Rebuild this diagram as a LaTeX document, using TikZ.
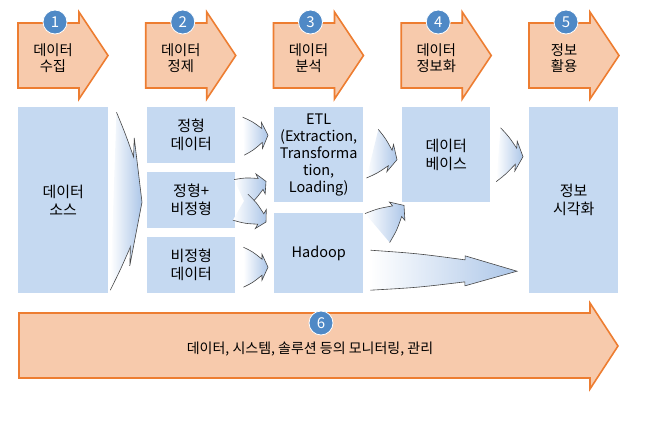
\documentclass[tikz,border=0pt]{standalone}
\usepackage{fontspec}
\setmainfont{Noto Sans CJK KR}
\usetikzlibrary{calc, positioning}
\definecolor{peach}{RGB}{247,202,172}
\definecolor{stageline}{RGB}{237,125,49}
\definecolor{boxblue}{RGB}{197,217,241}
\definecolor{flowblue}{RGB}{172,198,232}
\definecolor{badgeblue}{RGB}{79,137,198}
\definecolor{flowgray}{RGB}{70,70,70}
\tikzset{
	block/.style={fill=boxblue, align=center, inner sep=0pt, font=\fontsize{15}{18}\selectfont},
	latin/.style={font=\fontsize{14.5}{17}\selectfont},
	stage/.style={fill=peach, draw=stageline, line width=1.6pt},
	badge/.style={circle, fill=badgeblue, draw=white, line width=0.8pt, minimum size=24pt, inner sep=0pt, text=white, font=\fontsize{15}{15}\selectfont},
	flowfill/.style={left color=white, right color=flowblue},
	flowline/.style={draw=flowgray, line width=0.6pt}
}
% tail, tip, half width, head length, head half width, neck half width
\newcommand\flowpath[6]{($(#1)!#3!90:(#2)$)
	.. controls ($(#2)!#4!(#1)!0.5!(#1)!{(#3+#6)/2+1.5pt}!90:(#2)$) .. ($(#2)!#4!(#1)!#6!-90:(#1)$)
	-- ($(#2)!#4!(#1)!#5!-90:(#1)$) -- (#2)
	-- ($(#2)!#4!(#1)!#5!90:(#1)$) -- ($(#2)!#4!(#1)!#6!90:(#1)$)
	.. controls ($(#2)!#4!(#1)!0.5!(#1)!{(#3+#6)/2+1.5pt}!-90:(#2)$) .. ($(#1)!#3!-90:(#2)$)}
\newcommand\flowarrow[6]{%
	\shade[flowfill] \flowpath{#1}{#2}{#3}{#4}{#5}{#6} -- cycle;
	\draw[flowline] \flowpath{#1}{#2}{#3}{#4}{#5}{#6};}

\begin{document}
\begin{tikzpicture}[x=1pt, y=-1pt]
	\useasboundingbox (0,0) rectangle (656,423);
	
	% Stages
	\foreach \i/\txt in {1/{데이터\\수집}, 2/{데이터\\정제}, 3/{데이터\\분석}, 4/{데이터\\정보화}, 5/{정보\\활용}} {
		\pgfmathsetmacro\L{18+127.75*(\i-1)}
		\draw[stage] (\L,23) -- (\L+61,23) -- (\L+61,12) -- (\L+90,55.5) -- (\L+61,99) -- (\L+61,88) -- (\L,88) -- cycle;
		\node[align=center, font=\fontsize{14.3}{16.5}\selectfont] (stage\i) at (\L+35,58) {\txt};
		\node[badge] (badge\i) at (\L+37,22) {\i};
	}
	
	% Sources and processing
	\node[block, minimum width=90, minimum height=186, anchor=north west] (src) at (18,107) {데이터\\소스};
	\node[block, minimum width=88, minimum height=56, anchor=north west] (c1) at (147,107) {정형\\데이터};
	\node[block, minimum width=88, minimum height=56, anchor=north west] (c2) at (147,172) {정형+\\비정형};
	\node[block, minimum width=88, minimum height=56, anchor=north west] (c3) at (147,237) {비정형\\데이터};
	\node[block, latin, minimum width=89, minimum height=95, anchor=north west] (etl) at (274,107) {ETL\\(Extraction,\\Transforma\\tion,\\Loading)};
	\node[block, latin, minimum width=89, minimum height=80, anchor=north west] (hadoop) at (274,213) {Hadoop};
	\node[block, minimum width=88, minimum height=95, anchor=north west] (db) at (402,107) {데이터\\베이스};
	\node[block, minimum width=89, minimum height=186, anchor=north west] (vis) at (529,107) {정보\\시각화};
	
	% Flow arrows
	\coordinate (a1) at ($(src.east)+(5,1)$);
	\coordinate (t1) at ($(c2.west)+(-5,2)$);
	\coordinate (a2) at ($(c1.east)+(8,1)$);
	\coordinate (t2) at ($(c1.east -| etl.west)+(-6,0)$);
	\coordinate (a3) at ($(c2.east)+(5,-7)$);
	\coordinate (t3) at ($(etl.south west)+(-8,-21)$);
	\coordinate (a4) at ($(c2.east)+(5,7)$);
	\coordinate (t4) at ($(hadoop.north west)+(-8,9)$);
	\coordinate (a5) at ($(c3.east)+(8,2)$);
	\coordinate (t5) at ($(c3.east -| hadoop.west)+(-6,2)$);
	\coordinate (a6) at ($(etl.east)+(9,-1)$);
	\coordinate (t6) at ($(db.west)+(-5,5)$);
	\coordinate (a7) at ($(db.east)+(8,0)$);
	\coordinate (t7) at ($(db.east -| vis.west)+(-6,2)$);
	\coordinate (a8) at ($(hadoop.north east)+(14,15)$);
	\coordinate (t8) at ($(db.south west)+(2,3)$);
	\coordinate (a9) at ($(hadoop.east)+(7,17)$);
	\coordinate (t9) at ($(a9 -| vis.west)+(-12,1)$);
	\flowarrow{a1}{t1}{89pt}{10pt}{64pt}{45pt}
	\flowarrow{a2}{t2}{19pt}{6pt}{13pt}{7pt}
	\flowarrow{a3}{t3}{15pt}{6pt}{11pt}{6pt}
	\flowarrow{a4}{t4}{15pt}{6pt}{11pt}{6pt}
	\flowarrow{a5}{t5}{20pt}{6pt}{13pt}{8pt}
	\flowarrow{a6}{t6}{25pt}{7pt}{14pt}{8pt}
	\flowarrow{a7}{t7}{27pt}{7pt}{15pt}{8pt}
	\flowarrow{a8}{t8}{19pt}{9pt}{12pt}{7pt}
	\flowarrow{a9}{t9}{20pt}{52pt}{15pt}{11pt}
	
	% Monitoring
	\draw[stage] (19,313) -- (590,313) -- (590,303) -- (618,346) -- (590,389) -- (590,378) -- (19,378) -- cycle;
	\node[font=\fontsize{14}{16}\selectfont] (monitor) at (310,349) {데이터, 시스템, 솔루션 등의 모니터링, 관리};
	\node[badge] (badge6) at (321,323) {6};
\end{tikzpicture}
\end{document}
